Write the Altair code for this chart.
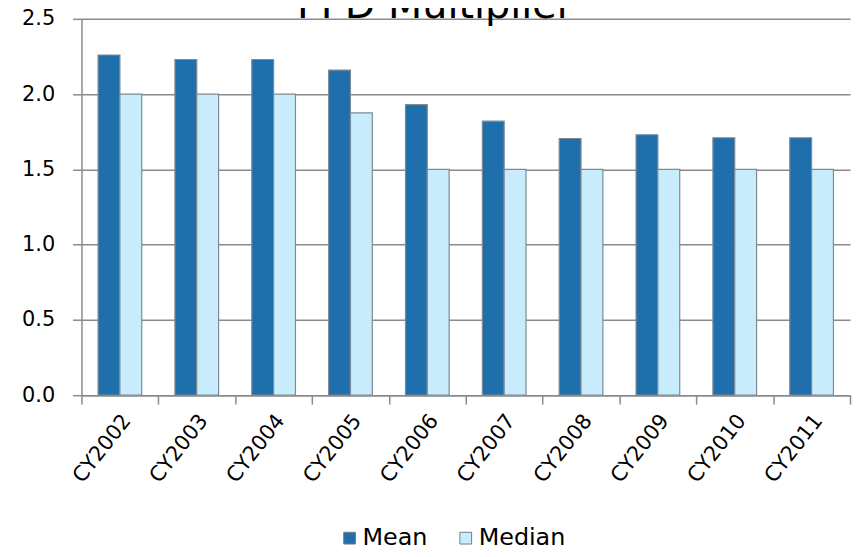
import altair as alt
import pandas as pd

years = ["CY2002", "CY2003", "CY2004", "CY2005", "CY2006",
         "CY2007", "CY2008", "CY2009", "CY2010", "CY2011"]
mean_vals = [2.26, 2.23, 2.23, 2.16, 1.93, 1.82, 1.705, 1.73, 1.71, 1.71]
median_vals = [2.0, 2.0, 2.0, 1.875, 1.5, 1.5, 1.5, 1.5, 1.5, 1.5]
series = ["Mean", "Median"]
series_colors = ["#1f6fad", "#c8ecfb"]
title_text = "PPD Multiplier"
y_ticks = [0.0, 0.5, 1.0, 1.5, 2.0, 2.5]

rows = []
for i, yr in enumerate(years):
    rows.append({"year": yr, "series": "Mean", "value": mean_vals[i]})
    rows.append({"year": yr, "series": "Median", "value": median_vals[i]})
df = pd.DataFrame(rows)

FONT = "DejaVu Sans"

bars = alt.Chart(df).mark_bar(stroke="#7d8b96", strokeWidth=1.2).encode(
    x=alt.X("year:N", sort=years, title=None,
            scale=alt.Scale(paddingInner=0, paddingOuter=0),
            axis=alt.Axis(labelAngle=-52, labelAlign="right", labelBaseline="top",
                          labelFontSize=21, labelFont=FONT, labelColor="#000000",
                          labelPadding=6, labelOffset=-2, tickBand="extent", tickSize=9,
                          tickColor="#8a8a8a", tickWidth=1.5, domainColor="#8a8a8a",
                          domainWidth=1.5, grid=False)),
    xOffset=alt.XOffset("series:N", sort=series,
                        scale=alt.Scale(paddingInner=0, paddingOuter=0.76)),
    y=alt.Y("value:Q", title=None,
            scale=alt.Scale(domain=[0, 2.5], nice=False),
            axis=alt.Axis(values=y_ticks, format=".1f", labelFontSize=21,
                          labelFont=FONT, labelColor="#000000", labelPadding=18,
                          tickSize=9, tickColor="#8a8a8a", tickWidth=1.5,
                          domainColor="#8a8a8a", domainWidth=1.5,
                          grid=True, gridColor="#8a8a8a", gridWidth=1.5)),
    color=alt.Color("series:N", sort=series, title=None,
                    scale=alt.Scale(domain=series, range=series_colors),
                    legend=alt.Legend(orient="none", direction="horizontal",
                                      legendX=258, legendY=511,
                                      symbolType="square", symbolSize=140,
                                      symbolStrokeColor="#6f7f8a",
                                      symbolStrokeWidth=1, symbolOpacity=1,
                                      labelFontSize=24, labelFont=FONT,
                                      labelColor="#000000", labelOffset=1,
                                      columnPadding=26)),
)

title_df = pd.DataFrame({"t": [title_text]})
title_mark = alt.Chart(title_df).mark_text(
    fontSize=40, font=FONT, baseline="alphabetic", align="center", color="#000000"
).encode(text="t:N", x=alt.value(356), y=alt.value(-1))

chart = alt.layer(bars, title_mark).properties(
    width=774, height=379,
    padding={"left": 74, "top": 9, "right": 3, "bottom": 156},
    autosize=alt.AutoSizeParams(type="none"),
).configure_view(stroke=None)

chart.save("out.html", embed_options={"renderer": "svg", "actions": False})
